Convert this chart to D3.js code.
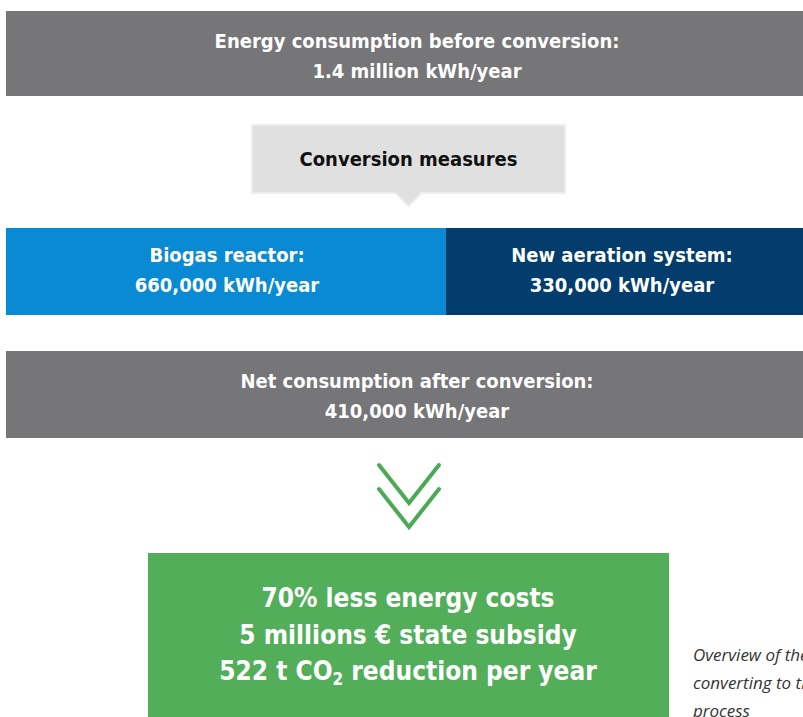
<!DOCTYPE html>
<html>
<head>
<meta charset="utf-8">
<script src="https://cdn.jsdelivr.net/npm/d3@7"></script>
<style>
  html, body { margin: 0; padding: 0; background: #fff; overflow: hidden; }
  svg { display: block; }
  .lbl { font-family: "DejaVu Sans Condensed", "Roboto", sans-serif; font-weight: bold; text-anchor: middle; }
</style>
</head>
<body>
<svg id="chart"></svg>
<script>
const width = 803, height = 717;

// stages of the flow
const stageLabels = ["Energy consumption before conversion:", "Net consumption after conversion:"];
const stageValues = ["1.4 million kWh/year", "410,000 kWh/year"];
const measuresTitle = "Conversion measures";
const measureLabels = ["Biogas reactor:", "New aeration system:"];
const measureValues = [660000, 330000];
const resultLines = ["70% less energy costs", "5 millions € state subsidy", "522 t CO|2| reduction per year"];
const captionLines = ["Overview of the", "converting to the", "process"];

const fmt = d3.format(",");

const svg = d3.select("#chart")
    .attr("width", width)
    .attr("height", height);

// full-width strips run past the right edge of the picture
const x = d3.scaleLinear().domain([0, 1]).range([6, 828]);
const midX = x(0.5);

function stageBar(y, h, label, value) {
    svg.append("rect")
        .attr("x", x(0)).attr("y", y)
        .attr("width", x(1) - x(0)).attr("height", h)
        .attr("fill", "#767578");
    svg.append("text").attr("class", "lbl")
        .attr("x", midX).attr("y", y + 37)
        .attr("fill", "#fff").attr("font-size", 20)
        .text(label);
    svg.append("text").attr("class", "lbl")
        .attr("x", midX).attr("y", y + 67)
        .attr("fill", "#fff").attr("font-size", 20)
        .text(value);
}

stageBar(11, 85, stageLabels[0], stageValues[0]);

// callout box with pointer
const boxX = 252, boxW = 313, boxY = 125, boxH = 68;
const cx = boxX + boxW / 2;
svg.append("path")
    .attr("d", `M${boxX},${boxY}H${boxX + boxW}V${boxY + boxH}H${cx + 13}L${cx},${boxY + boxH + 13}L${cx - 13},${boxY + boxH}H${boxX}Z`)
    .attr("fill", "#e0e0e0")
    .attr("stroke", "#ededed")
    .attr("stroke-width", 2);
svg.append("text").attr("class", "lbl")
    .attr("x", cx).attr("y", 166)
    .attr("fill", "#111").attr("font-size", 20)
    .text(measuresTitle);

// measures strip
const split = 446;
const segs = [
    {x0: x(0), x1: split, color: "#0a8ad2"},
    {x0: split, x1: x(1), color: "#033d6e"}
];
const mY = 228, mH = 87;
svg.selectAll("rect.measure")
    .data(segs)
    .enter().append("rect")
    .attr("class", "measure")
    .attr("x", d => d.x0).attr("y", mY)
    .attr("width", d => d.x1 - d.x0).attr("height", mH)
    .attr("fill", d => d.color);

const mCenters = [227, 622];
measureLabels.forEach((m, i) => {
    svg.append("text").attr("class", "lbl")
        .attr("x", mCenters[i]).attr("y", mY + 34)
        .attr("fill", "#fff").attr("font-size", 20)
        .text(m);
    svg.append("text").attr("class", "lbl")
        .attr("x", mCenters[i]).attr("y", mY + 64)
        .attr("fill", "#fff").attr("font-size", 20)
        .text(fmt(measureValues[i]) + " kWh/year");
});

stageBar(351, 87, stageLabels[1], stageValues[1]);

// double chevron
const chev = svg.append("g")
    .attr("fill", "none")
    .attr("stroke", "#4caa56")
    .attr("stroke-width", 4)
    .attr("stroke-linecap", "round");
[465, 489].forEach(y0 => {
    chev.append("path")
        .attr("d", `M379,${y0}L409,${y0 + 38}L439,${y0}`);
});

// result box
svg.append("rect")
    .attr("x", 148).attr("y", 553)
    .attr("width", 521).attr("height", 180)
    .attr("fill", "#53ae5a");

resultLines.forEach((line, i) => {
    const t = svg.append("text").attr("class", "lbl")
        .attr("x", 408).attr("y", 607 + i * 36.5)
        .attr("fill", "#fff").attr("font-size", 26);
    line.split("|").forEach((part, j) => {
        const ts = t.append("tspan").text(part);
        if (j === 1) ts.attr("font-size", 17).attr("dy", 5);
        if (j === 2) ts.attr("dy", -5);
    });
});

// caption
captionLines.forEach((line, i) => {
    svg.append("text")
        .attr("x", 693).attr("y", 661 + i * 28)
        .attr("font-family", "'Open Sans', sans-serif")
        .attr("font-style", "italic")
        .attr("font-size", 17)
        .attr("fill", "#333")
        .text(line);
});
</script>
</body>
</html>
